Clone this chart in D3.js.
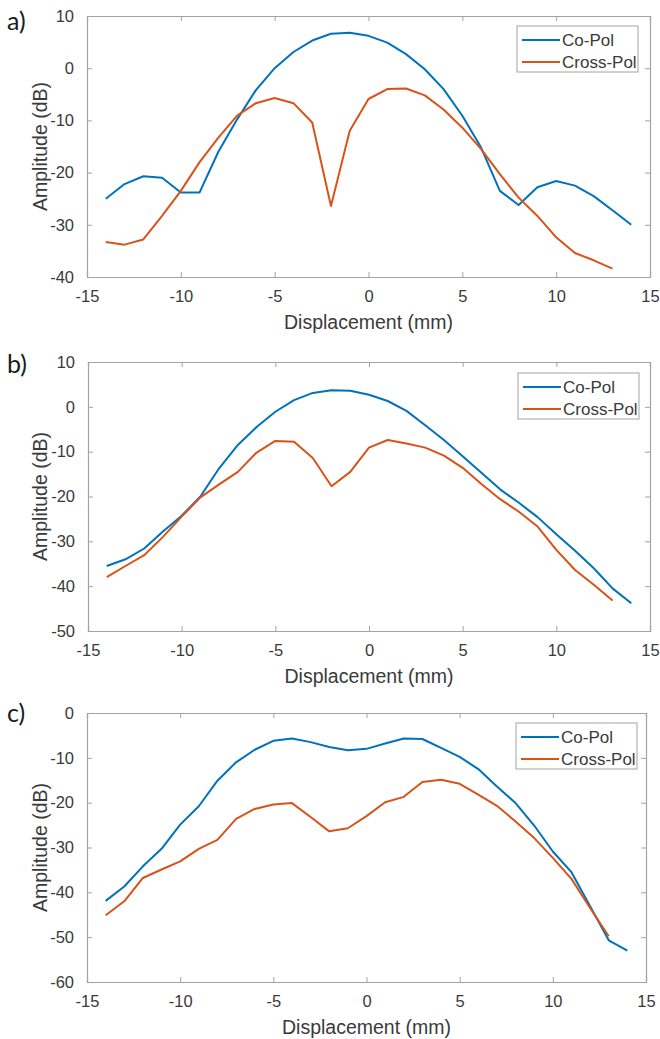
<!DOCTYPE html>
<html>
<head>
<meta charset="utf-8">
<script src="https://cdn.jsdelivr.net/npm/d3@7"></script>
<style>
  html, body { margin: 0; padding: 0; background: #ffffff; }
  svg { display: block; }
</style>
</head>
<body>
<svg id="chart" width="660" height="1039"></svg>
<script>
// ---------------- DATA ----------------
const xCoPol    = [-14,-13,-12,-11,-10,-9,-8,-7,-6,-5,-4,-3,-2,-1,0,1,2,3,4,5,6,7,8,9,10,11,12,13,14];
const xCrossPol = [-14,-13,-12,-11,-10,-9,-8,-7,-6,-5,-4,-3,-2,-1,0,1,2,3,4,5,6,7,8,9,10,11,12,13];

const coPolA    = [-25,-22.2,-20.7,-21,-23.8,-23.8,-16,-9.8,-4.2,0,3.1,5.3,6.6,6.8,6.2,4.9,2.7,-0.2,-4,-9.1,-15.2,-23.5,-26.2,-22.8,-21.6,-22.5,-24.5,-27.2,-30];
const crossPolA = [-33.3,-33.8,-32.8,-28.3,-23.5,-18,-13.3,-9.1,-6.7,-5.7,-6.7,-10.4,-26.4,-12,-5.9,-4,-3.9,-5.2,-7.9,-11.4,-15.5,-20.3,-24.8,-28.3,-32.4,-35.4,-36.8,-38.4];

const coPolB    = [-35.5,-34,-31.6,-27.8,-24.3,-20,-13.7,-8.5,-4.5,-1.1,1.5,3.1,3.7,3.6,2.7,1.3,-0.9,-4.1,-7.4,-11,-14.7,-18.4,-21.4,-24.6,-28.4,-32.1,-36,-40.5,-43.8];
const crossPolB = [-38,-35.5,-33.1,-29,-24.5,-20.2,-17.3,-14.5,-10.2,-7.6,-7.8,-11.4,-17.7,-14.5,-9.1,-7.4,-8.2,-9.1,-10.9,-13.6,-17.2,-20.6,-23.4,-26.7,-31.9,-36.4,-39.7,-43.2];

const coPolC    = [-41.9,-38.7,-34.2,-30.3,-24.9,-20.8,-15.1,-11,-8.2,-6.2,-5.7,-6.5,-7.6,-8.3,-8,-6.8,-5.7,-5.8,-7.8,-9.8,-12.5,-16.4,-20.1,-25.1,-30.9,-35.5,-43.1,-50.7,-53];
const crossPolC = [-45.1,-42,-36.8,-34.9,-33.1,-30.3,-28.3,-23.6,-21.4,-20.4,-20.1,-23.2,-26.4,-25.7,-23,-19.9,-18.7,-15.4,-14.9,-15.8,-18.2,-20.7,-24.2,-27.9,-32.3,-37,-43.5,-49.8];

const xTicks  = [-15,-10,-5,0,5,10,15];
const yTicksA = [-40,-30,-20,-10,0,10];
const yTicksB = [-50,-40,-30,-20,-10,0,10];
const yTicksC = [-60,-50,-40,-30,-20,-10,0];

const panelLabels = ["a)", "b)", "c)"];
const seriesNames = ["Co-Pol", "Cross-Pol"];
const xTitle = "Displacement (mm)";
const yTitle = "Amplitude (dB)";

// ---------------- LAYOUT / STYLE ----------------
const colors = ["#0072BD", "#D95319"];
const axisColor = "#a3a3a3";
const textColor = "#3a3a3a";
const tickFont = "Liberation Sans, Arial, sans-serif";
const fmt = d => String(d);   // ASCII hyphen-minus like the reference

const panels = [
  { label: panelLabels[0], co: coPolA, cross: crossPolA, yTicks: yTicksA,
    box: {l: 87, t: 16, r: 650, b: 277}, legend: {x: 517, y: 26}, labelY: 30 },
  { label: panelLabels[1], co: coPolB, cross: crossPolB, yTicks: yTicksB,
    box: {l: 88, t: 362, r: 650, b: 631}, legend: {x: 518, y: 373}, labelY: 373 },
  { label: panelLabels[2], co: coPolC, cross: crossPolC, yTicks: yTicksC,
    box: {l: 87, t: 713, r: 646, b: 982}, legend: {x: 516, y: 723}, labelY: 722 }
];

const svg = d3.select("#chart");

panels.forEach(p => {
  const g = svg.append("g");
  const x = d3.scaleLinear().domain([-15, 15]).range([p.box.l, p.box.r]);
  const yExt = d3.extent(p.yTicks);
  const y = d3.scaleLinear().domain(yExt).range([p.box.b, p.box.t]);

  const xAxis = d3.axisBottom(x).tickValues(xTicks).tickSize(-5).tickPadding(13).tickFormat(fmt);
  const gx = g.append("g").attr("transform", `translate(0,${p.box.b})`).call(xAxis);
  const gxt = g.append("g").attr("transform", `translate(0,${p.box.t})`)
    .call(d3.axisTop(x).tickValues(xTicks).tickSize(-5).tickFormat(""));
  const yAxis = d3.axisLeft(y).tickValues(p.yTicks).tickSize(-5).tickPadding(13).tickFormat(fmt);
  const gy = g.append("g").attr("transform", `translate(${p.box.l},0)`).call(yAxis);
  const gyr = g.append("g").attr("transform", `translate(${p.box.r},0)`)
    .call(d3.axisRight(y).tickValues(p.yTicks).tickSize(-5).tickFormat(""));

  [gx, gxt, gy, gyr].forEach(a => {
    a.selectAll(".domain").attr("stroke", axisColor).attr("stroke-width", 1.2);
    a.selectAll(".tick line").attr("stroke", axisColor).attr("stroke-width", 1);
    a.selectAll(".tick text").attr("fill", textColor)
      .style("font-family", tickFont).style("font-size", "16.5px");
  });
  gx.selectAll(".tick text").attr("dy", "0.71em");

  const line = d3.line().x(d => x(d[0])).y(d => y(d[1]));
  const coData = xCoPol.map((xv, i) => [xv, p.co[i]]);
  const crossData = xCrossPol.map((xv, i) => [xv, p.cross[i]]);
  g.append("path").datum(coData).attr("d", line)
    .attr("fill", "none").attr("stroke", colors[0]).attr("stroke-width", 2)
    .attr("stroke-linejoin", "round");
  g.append("path").datum(crossData).attr("d", line)
    .attr("fill", "none").attr("stroke", colors[1]).attr("stroke-width", 2)
    .attr("stroke-linejoin", "round");

  g.append("text")
    .attr("x", (p.box.l + p.box.r) / 2)
    .attr("y", p.box.b + 52)
    .attr("text-anchor", "middle")
    .attr("fill", textColor)
    .style("font-family", tickFont).style("font-size", "19.5px")
    .text(xTitle);
  g.append("text")
    .attr("transform", `translate(47,${(p.box.t + p.box.b) / 2}) rotate(-90)`)
    .attr("text-anchor", "middle")
    .attr("fill", textColor)
    .style("font-family", tickFont).style("font-size", "19.5px")
    .text(yTitle);

  g.append("text")
    .attr("x", 7).attr("y", p.labelY)
    .attr("fill", "#1a1a1a")
    .style("font-family", "Lato, 'Open Sans', sans-serif").style("font-size", "25px")
    .text(p.label);

  const lg = g.append("g").attr("transform", `translate(${p.legend.x},${p.legend.y})`);
  lg.append("rect").attr("x", 0).attr("y", 0).attr("width", 121).attr("height", 46)
    .attr("fill", "#fff").attr("stroke", axisColor).attr("stroke-width", 1);
  seriesNames.forEach((name, i) => {
    const cy = 14 + i * 22;
    lg.append("line").attr("x1", 5).attr("x2", 43).attr("y1", cy).attr("y2", cy)
      .attr("stroke", colors[i]).attr("stroke-width", 2);
    lg.append("text").attr("x", 45).attr("y", cy).attr("dy", "0.36em")
      .attr("fill", textColor)
      .style("font-family", tickFont).style("font-size", "17px")
      .text(name);
  });
});
</script>
</body>
</html>
